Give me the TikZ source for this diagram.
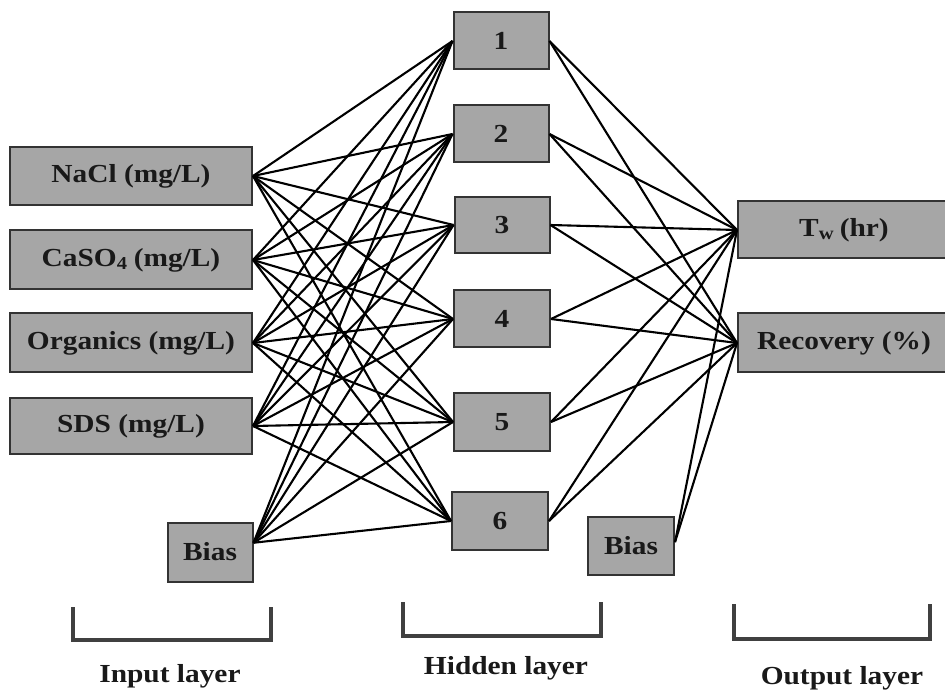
\documentclass[tikz,border=0pt]{standalone}
\usepackage{fontspec}
\setmainfont{Liberation Serif}[FakeStretch=1.13]
\begin{document}
\begin{tikzpicture}[x=1pt,y=-1pt,
  box/.style={draw=black!80, line width=2pt, fill=black!35, inner sep=0pt,
    font=\fontsize{26}{28}\selectfont\bfseries, text=black!90},
  conn/.style={line width=2.1pt, black},
  bracket/.style={line width=3.4pt, black!75},
  lab/.style={font=\fontsize{26}{28}\selectfont\bfseries, text=black!90}]
\useasboundingbox (0,0) rectangle (945,692);
\fill[white] (0,0) rectangle (945,692);
% input layer
\node[box, minimum width=242pt, minimum height=58pt] (i1) at (131,176) {NaCl (mg/L)};
\node[box, minimum width=242pt, minimum height=59pt] (i2) at (131,260) {CaSO$_{\mathbf 4}$ (mg/L)};
\node[box, minimum width=242pt, minimum height=59pt] (i3) at (131,343) {Organics (mg/L)};
\node[box, minimum width=242pt, minimum height=55pt] (i4) at (131,426) {SDS (mg/L)};
\node[box, minimum width=85pt, minimum height=59pt] (ib) at (210,552) {Bias};
% hidden layer
\node[box, minimum width=95pt, minimum height=57pt] (h1) at (501,41) {1};
\node[box, minimum width=95pt, minimum height=57pt] (h2) at (501,134) {2};
\node[box, minimum width=95pt, minimum height=56pt] (h3) at (502,225) {3};
\node[box, minimum width=96pt, minimum height=57pt] (h4) at (502,319) {4};
\node[box, minimum width=96pt, minimum height=57pt] (h5) at (502,422) {5};
\node[box, minimum width=96pt, minimum height=58pt] (h6) at (500,521) {6};
% output layer
\node[box, minimum width=212pt, minimum height=57pt] (o1) at (844,230) {T$_{\mathbf w}$ (hr)};
\node[box, minimum width=212pt, minimum height=59pt] (o2) at (844,343) {Recovery (\%)};
\node[box, minimum width=86pt, minimum height=58pt] (ob) at (631,546) {Bias};
% connections input -> hidden
\foreach \i in {i1,i2,i3,i4} {
  \foreach \h in {h1,h2,h3,h4,h5,h6} {
    \draw[conn] (\i.east) -- (\h.west);
  }
}
\foreach \h in {h1,h2,h3,h4,h5,h6} {
  \draw[conn] (ib.12) -- (\h.west);
}
% connections hidden -> output
\foreach \h in {h1,h2,h3,h4,h5,h6} {
  \foreach \o in {o1,o2} {
    \draw[conn] (\h.east) -- (\o.west);
  }
}
\foreach \o in {o1,o2} {
  \draw[conn] (ob.5) -- (\o.west);
}
% brackets
\coordinate (b1a) at (73,607); \coordinate (b1b) at (271,607);
\coordinate (b2a) at (403,602); \coordinate (b2b) at (601,602);
\coordinate (b3a) at (734,604); \coordinate (b3b) at (930,604);
\draw[bracket] (b1a) -- ++(0,33) -| (b1b);
\draw[bracket] (b2a) -- ++(0,34) -| (b2b);
\draw[bracket] (b3a) -- ++(0,35) -| (b3b);
\node[lab] (l1) at (170,676) {Input layer};
\node[lab] (l2) at (506,668) {Hidden layer};
\node[lab] (l3) at (842,678) {Output layer};
\end{tikzpicture}
\end{document}
